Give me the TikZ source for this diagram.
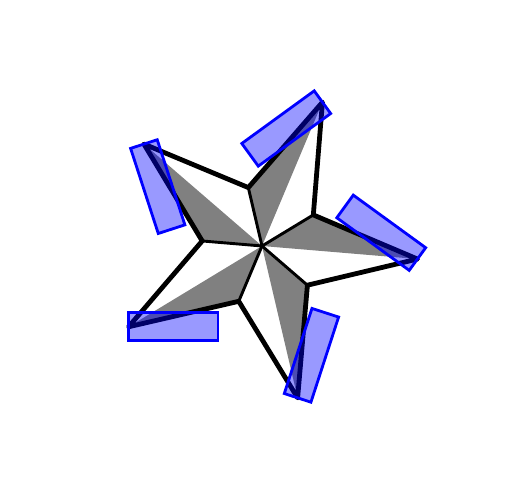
\documentclass[tikz,border=0pt]{standalone}
\usetikzlibrary{calc}

\begin{document}
\begin{tikzpicture}[
  x=1pt, y=1pt,
  rim/.style={line width=4.8pt, line join=round},
  spoke/.style={line width=2.9pt},
  vane/.style={fill=gray, draw=none},
  tab/.style={draw=blue, fill=blue, fill opacity=0.4, line width=2.8pt}
]
\useasboundingbox (0,0) rectangle (527,502);
\coordinate (c) at (262,256);
\foreach \i in {0,...,4} {
  \coordinate (tip\i) at ($(c)+(-4.8+72*\i:156)$);
  \coordinate (in\i) at ($(c)+(31.2+72*\i:60)$);
}
% shaded half of each arm
\foreach \i in {0,...,4}
  \fill[vane] (c) -- (tip\i) -- (in\i) -- cycle;
\draw[rim] (tip0) -- (in0) -- (tip1) -- (in1) -- (tip2) -- (in2)
  -- (tip3) -- (in3) -- (tip4) -- (in4) -- cycle;
\foreach \i in {0,...,4}
  \draw[spoke] (c) -- (in\i);
% tabs on the tips
\foreach \i in {0,...,4} {
  \begin{scope}[shift={(tip\i)}, rotate=144+72*\i]
    \draw[tab] (0,-14) rectangle (89.5,14);
  \end{scope}
}
\end{tikzpicture}
\end{document}
